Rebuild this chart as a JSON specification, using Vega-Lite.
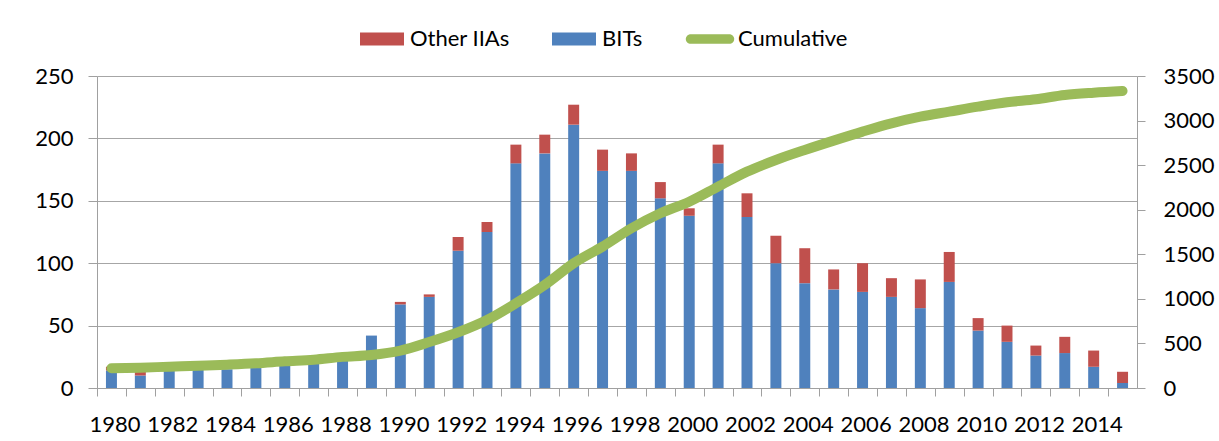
{
  "$schema": "https://vega.github.io/schema/vega-lite/v6.json",
  "width": 1040,
  "height": 312,
  "autosize": {"type": "none"},
  "padding": {"left": 97, "top": 76, "right": 82, "bottom": 53},
  "background": "white",
  "config": {
    "font": "Lato",
    "view": {"stroke": null},
    "axis": {
      "labelFont": "Lato",
      "labelFontSize": 22,
      "labelColor": "#000000",
      "domainColor": "#a0a0a0",
      "tickColor": "#a0a0a0",
      "gridColor": "#a6a6a6",
      "title": null
    }
  },
  "data": {
    "values": [
      {"year": 1980, "BITs": 14, "Other IIAs": 3, "Cumulative": 221},
      {"year": 1981, "BITs": 10, "Other IIAs": 3, "Cumulative": 228},
      {"year": 1982, "BITs": 14, "Other IIAs": 0, "Cumulative": 239},
      {"year": 1983, "BITs": 15, "Other IIAs": 0, "Cumulative": 250},
      {"year": 1984, "BITs": 15, "Other IIAs": 0, "Cumulative": 262},
      {"year": 1985, "BITs": 16, "Other IIAs": 0, "Cumulative": 277},
      {"year": 1986, "BITs": 19, "Other IIAs": 0, "Cumulative": 299},
      {"year": 1987, "BITs": 21, "Other IIAs": 0, "Cumulative": 318},
      {"year": 1988, "BITs": 24, "Other IIAs": 0, "Cumulative": 349},
      {"year": 1989, "BITs": 42, "Other IIAs": 0, "Cumulative": 370},
      {"year": 1990, "BITs": 67, "Other IIAs": 2, "Cumulative": 419},
      {"year": 1991, "BITs": 73, "Other IIAs": 2, "Cumulative": 515},
      {"year": 1992, "BITs": 110, "Other IIAs": 11, "Cumulative": 625},
      {"year": 1993, "BITs": 125, "Other IIAs": 8, "Cumulative": 763},
      {"year": 1994, "BITs": 180, "Other IIAs": 15, "Cumulative": 950},
      {"year": 1995, "BITs": 188, "Other IIAs": 15, "Cumulative": 1156},
      {"year": 1996, "BITs": 211, "Other IIAs": 16, "Cumulative": 1399},
      {"year": 1997, "BITs": 174, "Other IIAs": 17, "Cumulative": 1586},
      {"year": 1998, "BITs": 174, "Other IIAs": 14, "Cumulative": 1792},
      {"year": 1999, "BITs": 152, "Other IIAs": 13, "Cumulative": 1960},
      {"year": 2000, "BITs": 138, "Other IIAs": 6, "Cumulative": 2090},
      {"year": 2001, "BITs": 180, "Other IIAs": 15, "Cumulative": 2259},
      {"year": 2002, "BITs": 137, "Other IIAs": 19, "Cumulative": 2427},
      {"year": 2003, "BITs": 100, "Other IIAs": 22, "Cumulative": 2558},
      {"year": 2004, "BITs": 84, "Other IIAs": 28, "Cumulative": 2670},
      {"year": 2005, "BITs": 79, "Other IIAs": 16, "Cumulative": 2775},
      {"year": 2006, "BITs": 77, "Other IIAs": 23, "Cumulative": 2876},
      {"year": 2007, "BITs": 73, "Other IIAs": 15, "Cumulative": 2969},
      {"year": 2008, "BITs": 64, "Other IIAs": 23, "Cumulative": 3044},
      {"year": 2009, "BITs": 85, "Other IIAs": 24, "Cumulative": 3100},
      {"year": 2010, "BITs": 46, "Other IIAs": 10, "Cumulative": 3156},
      {"year": 2011, "BITs": 37, "Other IIAs": 13, "Cumulative": 3205},
      {"year": 2012, "BITs": 26, "Other IIAs": 8, "Cumulative": 3239},
      {"year": 2013, "BITs": 28, "Other IIAs": 13, "Cumulative": 3287},
      {"year": 2014, "BITs": 17, "Other IIAs": 13, "Cumulative": 3313},
      {"year": 2015, "BITs": 4, "Other IIAs": 9, "Cumulative": 3332}
    ]
  },
  "layer": [
    {
      "transform": [{"fold": ["BITs", "Other IIAs"], "as": ["series", "value"]}],
      "mark": {"type": "bar"},
      "encoding": {
        "x": {
          "field": "year",
          "type": "ordinal",
          "scale": {"paddingInner": 0.62, "paddingOuter": 0.31},
          "axis": {
            "labelAngle": 0,
            "labelOverlap": false,
            "labelExpr": "datum.value % 2 == 0 ? datum.label : ''",
            "tickOffset": -14.44,
            "labelOffset": 17.5,
            "tickSize": 8,
            "labelPadding": 18,
            "grid": false
          }
        },
        "y": {
          "field": "value",
          "type": "quantitative",
          "stack": "zero",
          "scale": {"domain": [0, 250], "nice": false},
          "axis": {
            "values": [0, 50, 100, 150, 200, 250],
            "grid": true,
            "tickSize": 9,
            "labelPadding": 15
          }
        },
        "color": {
          "field": "series",
          "type": "nominal",
          "scale": {
            "domain": ["Other IIAs", "BITs", "Cumulative"],
            "range": ["#c0504d", "#4f81bd", "#9bbb59"]
          },
          "legend": {
            "orient": "none",
            "legendX": 263,
            "legendY": -59,
            "direction": "horizontal",
            "title": null,
            "padding": 0,
            "labelFont": "Lato",
            "labelFontSize": 22,
            "labelColor": "#000000",
            "labelOffset": 6,
            "columnPadding": 42,
            "symbolSize": 1936,
            "encode": {
              "symbols": {
                "update": {
                  "shape": {"signal": "datum.value === 'Cumulative' ? 'M-0.88,-0.22H0.88A0.22,0.22 0 0 1 0.88,0.22H-0.88A0.22,0.22 0 0 1 -0.88,-0.22Z' : 'M-1,-0.3H1V0.3H-1Z'"},
                  "fill": {"signal": "scale('color', datum.value)"},
                  "fillOpacity": {"value": 1},
                  "opacity": {"value": 1},
                  "stroke": {"value": "transparent"},
                  "strokeWidth": {"value": 0}
                }
              }
            }
          }
        },
        "order": {"field": "series", "sort": "ascending"}
      }
    },
    {
      "mark": {"type": "line", "strokeWidth": 10, "strokeCap": "round", "strokeJoin": "round", "interpolate": "monotone"},
      "encoding": {
        "x": {"field": "year", "type": "ordinal"},
        "y": {
          "field": "Cumulative",
          "type": "quantitative",
          "scale": {"domain": [0, 3500], "nice": false},
          "axis": {
            "orient": "right",
            "values": [0, 500, 1000, 1500, 2000, 2500, 3000, 3500],
            "format": "d",
            "grid": false,
            "tickSize": 8,
            "labelPadding": 18
          }
        },
        "color": {"datum": "Cumulative"}
      }
    }
  ],
  "resolve": {"scale": {"y": "independent"}}
}
